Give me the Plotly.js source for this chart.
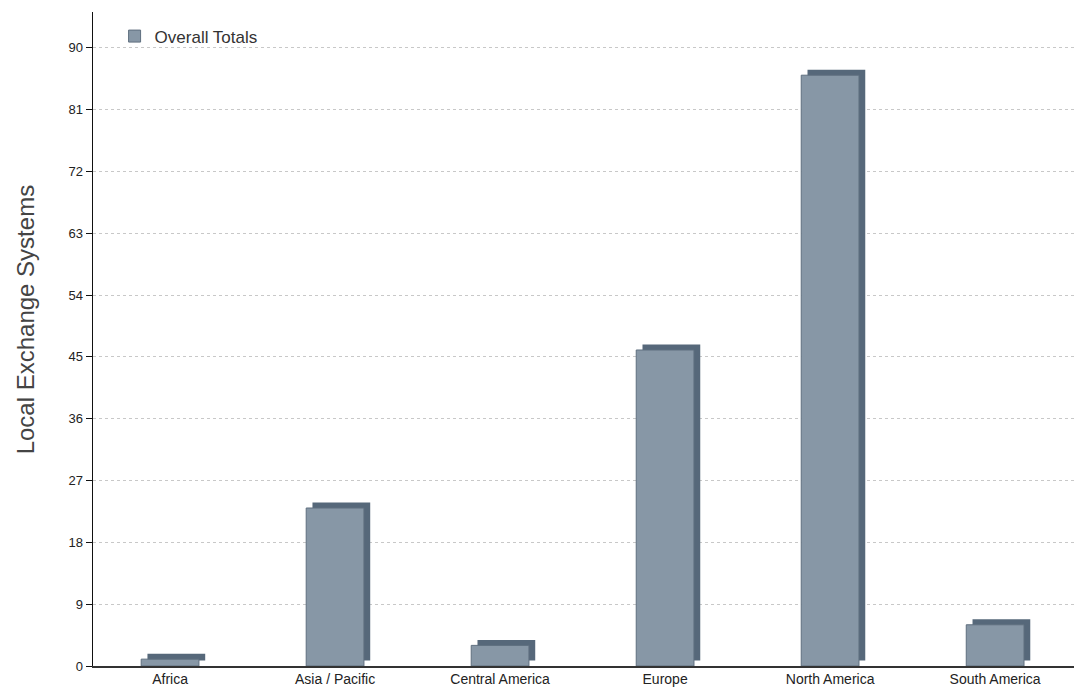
<!DOCTYPE html>
<html>
<head>
<meta charset="utf-8">
<script src="https://cdn.plot.ly/plotly-3.0.1.min.js"></script>
<style>html,body{margin:0;padding:0;background:#fff;}#chart{width:1074px;height:695px;}</style>
</head>
<body>
<div id="chart"></div>
<script>
const regions = ["Africa", "Asia / Pacific", "Central America", "Europe", "North America", "South America"];
const totals = [1, 23, 3, 46, 86, 6];
const yTicks = [0, 9, 18, 27, 36, 45, 54, 63, 72, 81, 90];
const yTitle = "Local Exchange Systems";

const barW = 0.35;
const depthX = 0.038;  // horizontal shift of the 3D side (category units)
const depthY = 0.8;    // vertical shift of the 3D top (value units)

const side = {
  type: "bar", x: regions, y: totals, base: depthY,
  width: barW, offset: -barW / 2 + depthX,
  marker: {color: "#56687a", line: {width: 0}},
  showlegend: false, hoverinfo: "skip"
};
const front = {
  type: "bar", name: "Overall Totals", x: regions, y: totals,
  width: barW, offset: -barW / 2,
  marker: {color: "#8797a6", line: {color: "#5f6f7f", width: 1}},
  showlegend: true
};

const layout = {
  width: 1074, height: 695,
  margin: {l: 93, r: 0, t: 12, b: 29},
  paper_bgcolor: "#ffffff", plot_bgcolor: "#ffffff",
  font: {family: "Liberation Sans, Arial, sans-serif", color: "#222"},
  barmode: "overlay",
  xaxis: {
    type: "category", range: [-0.467, 5.478],
    showgrid: false, zeroline: false,
    showline: true, linecolor: "#333", linewidth: 1.5,
    ticks: "", tickfont: {size: 14, color: "#222"}
  },
  yaxis: {
    range: [0, 95.2], tickvals: yTicks, ticktext: yTicks.map(String),
    showgrid: true, gridcolor: "#c8c8c8", griddash: "dot", gridwidth: 1,
    zeroline: false, showline: true, linecolor: "#111", linewidth: 1.5,
    ticks: "outside", ticklen: 6, tickcolor: "#111",
    tickfont: {size: 13, color: "#222"}
  },
  annotations: [{
    text: yTitle, xref: "paper", yref: "paper", x: -0.069, y: 0.529,
    xanchor: "center", yanchor: "middle", textangle: -90, showarrow: false,
    font: {size: 24, color: "#444"}
  }],
  legend: {
    x: 0.022, y: 0.99, xanchor: "left", yanchor: "top",
    bgcolor: "rgba(255,255,255,0)", font: {size: 17, color: "#333"},
    itemwidth: 30
  }
};

Plotly.newPlot("chart", [side, front], layout, {displayModeBar: false, staticPlot: true});
</script>
</body>
</html>
